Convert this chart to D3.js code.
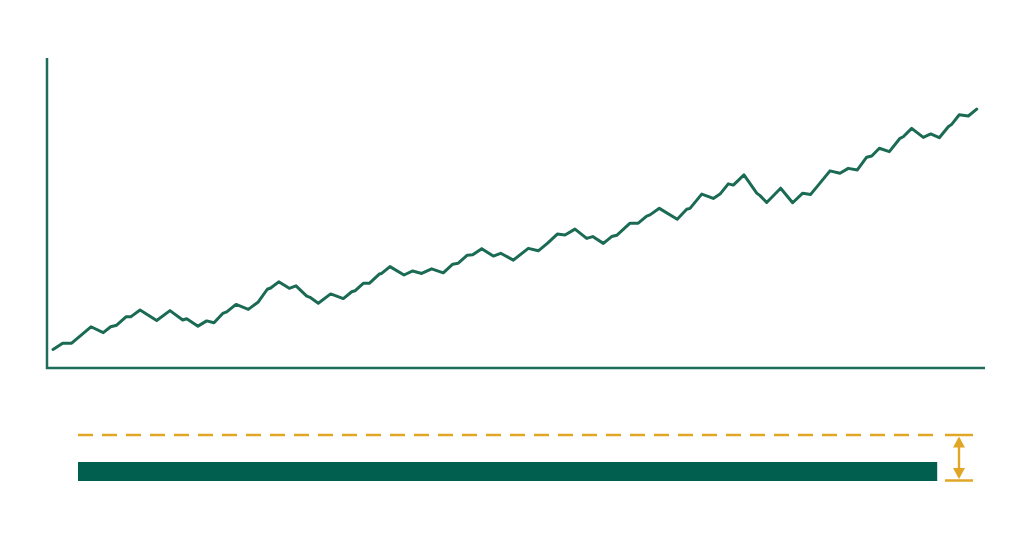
<!DOCTYPE html>
<html>
<head>
<meta charset="utf-8">
<script src="https://cdn.jsdelivr.net/npm/d3@7"></script>
<style>
  html, body { margin: 0; padding: 0; background: #ffffff; }
  svg { display: block; }
</style>
</head>
<body>
<svg id="chart" width="1024" height="536"></svg>
<script>
// ---- data ----
const periods = [0, 1.05, 2.02, 4.11, 5.44, 6.24, 6.89, 7.90, 8.41, 9.42, 11.22, 12.66, 14.04, 14.47, 15.69, 16.63, 17.42, 18.37, 18.80, 19.81,
  21.14, 22.22, 23.19, 23.56, 24.43, 25.57, 26.30, 27.46, 27.81, 28.71, 30.05, 31.42, 32.33, 32.68, 33.58, 34.23, 35.31, 35.57, 36.47, 37.99,
  38.93, 39.90, 40.98, 42.24, 43.26, 43.86, 44.84, 45.42, 46.40, 47.65, 48.45, 49.82, 51.44, 52.52, 53.50, 54.58, 55.41, 56.49, 57.76, 58.41,
  59.56, 60.46, 61.01, 62.45, 63.34, 64.25, 64.61, 65.62, 67.56, 68.58, 68.94, 70.21, 71.46, 72.19, 73.08, 73.63, 74.78, 76.16, 76.52, 77.24,
  78.75, 80.05, 81.14, 82.0, 84.09, 85.17, 86.07, 87.05, 88.06, 88.61, 89.43, 90.51, 91.67, 92.02, 92.93, 94.19, 94.99, 95.92, 96.89, 97.26,
  98.08, 99.06, 99.97];
const values = [6.0, 8.0, 8.0, 13.3, 11.4, 13.3, 13.8, 16.5, 16.5, 18.7, 15.3, 18.5, 15.5, 15.9, 13.5, 15.2, 14.6, 17.6, 18.1, 20.5,
  18.9, 21.3, 25.4, 25.8, 27.8, 25.7, 26.5, 23.2, 22.8, 20.9, 23.9, 22.4, 24.6, 24.9, 27.3, 27.3, 30.3, 30.5, 32.7, 30.0,
  31.3, 30.5, 32.0, 30.7, 33.5, 33.8, 36.4, 36.5, 38.5, 36.1, 37.0, 34.8, 38.6, 37.8, 40.2, 43.2, 42.9, 44.8, 41.8, 42.4,
  40.2, 42.4, 42.8, 46.7, 46.7, 49.0, 49.4, 51.5, 48.0, 51.2, 51.5, 56.1, 54.7, 56.1, 59.4, 59.0, 62.3, 56.4, 55.6, 53.4,
  58.0, 53.3, 56.4, 56.0, 63.6, 62.8, 64.4, 63.9, 68.0, 68.4, 70.9, 69.8, 74.1, 74.6, 77.3, 74.4, 75.5, 74.3, 77.8, 78.6,
  81.7, 81.3, 83.5];
const targetLevel = [100];   // dashed target
const actualLevel = [96];    // solid bar

// ---- layout ----
const svg = d3.select("#chart");
const green = "#1b6b54";
const axisGreen = "#1f6b5c";
const barGreen = "#005f4e";
const gold = "#e2a626";

const x = d3.scaleLinear().domain([0, 100]).range([53, 977]);
const y = d3.scaleLinear().domain([0, 100]).range([368, 58]);

// axes (plain lines, no ticks)
const xAxis = d3.axisBottom(x).tickValues([]).tickSizeOuter(0);
const yAxis = d3.axisLeft(y).tickValues([]).tickSizeOuter(0);
svg.append("g").attr("transform", "translate(0,368)").call(xAxis)
  .call(g => g.select(".domain").attr("d", "M46,0H985").attr("stroke", axisGreen).attr("stroke-width", 2.5));
svg.append("g").attr("transform", "translate(47,0)").call(yAxis)
  .call(g => g.select(".domain").attr("d", "M0,58V369").attr("stroke", axisGreen).attr("stroke-width", 2.5));

// line
const pts = periods.map((p, i) => [p, values[i]]);
svg.append("path")
  .datum(pts)
  .attr("fill", "none")
  .attr("stroke", green)
  .attr("stroke-width", 3)
  .attr("stroke-linejoin", "round")
  .attr("stroke-linecap", "round")
  .attr("d", d3.line().x(d => x(d[0])).y(d => y(d[1])));

// bottom gap indicator
const xb = d3.scaleLinear().domain([0, 100]).range([78, 973]);
const dashY = 435, barTop = 462, barBottom = 481;

svg.append("line")
  .attr("x1", xb(0)).attr("x2", xb(actualLevel[0]) - 2)
  .attr("y1", dashY).attr("y2", dashY)
  .attr("stroke", gold).attr("stroke-width", 2.5)
  .attr("stroke-dasharray", "15 9");

svg.append("rect")
  .attr("x", xb(0)).attr("y", barTop)
  .attr("width", xb(actualLevel[0]) - xb(0)).attr("height", barBottom - barTop)
  .attr("fill", barGreen);

const capX1 = 945, capX2 = xb(targetLevel[0]);
const arrowX = (capX1 + capX2) / 2;
svg.append("line").attr("x1", capX1).attr("x2", capX2).attr("y1", dashY).attr("y2", dashY)
  .attr("stroke", gold).attr("stroke-width", 2.5);
svg.append("line").attr("x1", capX1).attr("x2", capX2).attr("y1", barBottom - 0.5).attr("y2", barBottom - 0.5)
  .attr("stroke", gold).attr("stroke-width", 2.5);
svg.append("line").attr("x1", arrowX).attr("x2", arrowX).attr("y1", dashY + 4).attr("y2", barBottom - 4)
  .attr("stroke", gold).attr("stroke-width", 2.4);
svg.append("path")
  .attr("d", `M${arrowX},${dashY + 1.5}L${arrowX - 6},${dashY + 12.5}L${arrowX + 6},${dashY + 12.5}Z`)
  .attr("fill", gold);
svg.append("path")
  .attr("d", `M${arrowX},${barBottom - 2}L${arrowX - 6},${barBottom - 13}L${arrowX + 6},${barBottom - 13}Z`)
  .attr("fill", gold);
</script>
</body>
</html>
